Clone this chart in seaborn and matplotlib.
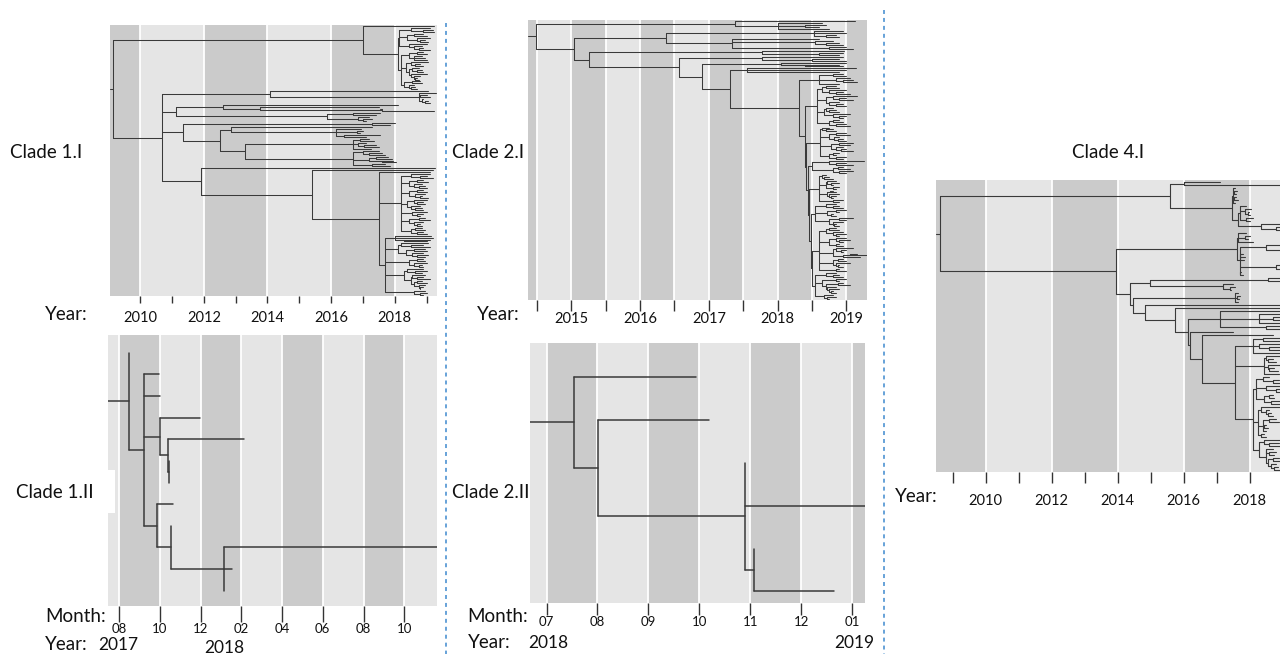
import matplotlib
matplotlib.use("Agg")
import matplotlib.pyplot as plt
from matplotlib.lines import Line2D
from matplotlib.patches import Rectangle
import pandas as pd
import seaborn as sns

W, H = 1280, 654
BASE_YEAR = 2000   # node times below are written as years after 2000

# ---------------- Clade 1.I (node / tip dates, nested as in the tree) ----------------
A1 = "((19.1,(19.2,19.25)18.9)18.5,((18.9,19.0)18.6,(19.1,(18.95,19.05)18.8)18.7)18.4,(19.0,(18.85,(18.9,19.1)18.75)18.6)18.45)18.15"
A2 = ("(((18.9,19.0)18.7,(18.85,18.95,19.0)18.6)18.45,((19.05,(18.8,18.9)18.65)18.5,((18.75,(18.85,18.9)18.7)18.55,"
      "(19.0,(18.8,(18.7,18.75)18.65)18.6)18.5)18.45)18.35,((18.8,18.85)18.55,(18.6,(18.65,18.7)18.5)18.45)18.3)18.2")
A = f"(19.25,({A1},{A2})18.1)17.0"
B1 = "(19.05,(19.3,(19.0,19.1)18.8,(18.9,(19.05,19.1)18.95)18.85)18.75)14.08"
B2b = "((17.55,17.4)16.7,(17.2,(17.3,17.1)17.0)16.85)15.86"
B2 = f"((18.1,(17.5,(17.55,19.25)17.6)13.75)12.6,{B2b})11.12"
B3ba = "(16.95,(17.0,16.9)16.8,(17.55,17.1)16.4)16.17"
B3bb1 = "((17.2,17.35)16.9,(17.1,(17.4,17.5)17.05)16.85,17.25)16.7"
B3bb2 = "((17.5,(17.6,17.7)17.2)17.0,((17.8,17.9)17.4,(17.95,18.05)17.6)17.2,(17.7,17.85)17.3)16.7"
B3 = f"((18.0,17.85)17.3,((17.3,{B3ba})12.85,({B3bb1},{B3bb2})13.3)12.5)11.36"
D1 = ("((19.1,(19.0,19.2)18.8)18.5,((18.9,19.05)18.7,(18.85,(18.95,19.0)18.75)18.6)18.45,((18.9,19.0)18.7,(18.95,(18.85,19.05)18.8)18.65)18.45,"
      "((19.0,(18.9,18.95)18.7)18.6,(18.8,(18.85,18.9)18.65)18.5)18.4,(19.0,(18.9,18.8)18.7)18.55,((18.95,19.1)18.75,(18.9,(18.8,18.85)18.7)18.6)18.45,"
      "((18.85,18.95)18.65,(18.9,19.0)18.7)18.5)18.2")
D2 = ("((19.15,19.2,(19.1,19.0)18.3)18.0,((19.05,(18.9,19.1)18.5)18.2,((18.95,19.0)18.6,(18.9,(19.05,18.95)18.7)18.55)18.35)18.1,"
      "((18.9,18.95)18.7,(19.0,(18.85,18.9)18.75)18.6)18.45,((18.9,(19.0,18.85)18.65)18.4,((18.95,(18.9,19.1)18.7)18.55,"
      "((18.85,19.0)18.7,(18.95,(18.9,18.8)18.8)18.75)18.6)18.5)18.3,(18.95,(19.0,18.9)18.8)18.6)17.7")
D = f"(19.1,{D1},{D2})17.5"
C = f"(19.2,{D})15.4"
B4 = f"(19.26,{C})11.9"
B = f"({B1},{B2},{B3},{B4})10.7"
TREE_1I = f"({A},{B})9.16"
ORIGIN_1I = 9.05

# ---------------- Clade 2.I ----------------
R1 = "(19.12,(18.65,(18.7,18.6)18.4,18.75)18.0)17.38"
R2a = "((18.95,19.0,(18.85,18.9)18.7)18.53,(18.6,(18.8,(18.9,18.95)18.7)18.55,(19.0,19.1)18.75)17.34)16.38"
S1 = "((18.95,19.0)18.8,(19.05,(19.1,19.15)18.95)18.85,18.9)18.6"
S2 = ("(((18.85,18.9)18.7,(19.0,(18.95,19.05)18.85)18.75)18.65,((19.15,(19.0,19.1)18.9)18.8,(18.9,(18.95,19.0)18.85)18.75)18.7,"
      "((18.8,(18.85,18.9)18.75)18.7,(19.05,(19.0,18.95)18.9)18.8)18.68,((18.9,18.95)18.8,(19.0,19.05)18.85)18.75)18.58")
S3 = ("((18.75,(18.8,18.85)18.7)18.65,((19.0,19.05)18.85,(18.9,(18.95,19.0)18.88)18.82)18.75,((19.1,19.05)18.9,"
      "(18.95,(19.0,19.1)18.92)18.85)18.78,((18.9,18.85)18.8,(19.0,18.95)18.85)18.75)18.62")
S4 = "((19.25,(19.0,19.1)18.85)18.75,((18.95,19.05)18.88,(19.1,19.0)18.9)18.8)18.5"
S5 = ("((18.7,(18.75,18.8)18.68)18.65,((18.85,(18.9,18.8)18.78)18.72,(18.9,18.85)18.8)18.7,((18.8,18.85)18.76,"
      "(18.9,(18.85,18.8)18.78)18.75)18.72,(18.95,18.9)18.8)18.6")
S6 = "((18.85,(18.9,18.95)18.8)18.7,((19.0,18.9)18.85,(18.8,18.85)18.78)18.72,((19.1,19.0)18.9,(18.95,(18.85,18.9)18.82)18.8)18.75)18.55"
S7 = ("(((18.85,18.9)18.75,(18.95,(19.0,18.9)18.85)18.8)18.7,((19.0,(19.05,18.95)18.9)18.85,(18.9,18.95)18.85)18.75,"
      "((19.1,(19.0,18.95)18.92)18.85,((19.15,19.3)19.05,19.2)18.95)18.8,((18.95,19.0)18.88,(19.05,(18.9,18.95)18.88)18.85)18.8,"
      "(18.9,19.0)18.85)18.6")
S8 = ("((18.85,(18.9,18.95)18.8)18.7,((19.0,18.9)18.85,((18.95,19.05)18.88,(18.85,(18.9,(18.8,18.85)18.78)18.75)18.72)18.7)18.65,"
      "(18.8,(18.85,18.75)18.72)18.68)18.55")
E = f"({S1},({S2},({S3},({S4},({S5},({S6},({S7},{S8})18.5)18.48)18.46)18.44)18.42)18.4)18.31"
R2b = (f"((18.97,(18.95,18.9)18.6)17.77,((18.95,(18.9,19.0)18.5)17.77,((19.0,(18.9,18.95)18.4)18.05,"
       f"((19.14,19.0,18.9)17.56,{E})17.31)16.9)16.57)15.26")
TREE_2I = f"({R1},({R2a},{R2b})15.04)14.49"
ORIGIN_2I = 14.37

# ---------------- Clade 4.I ----------------
T2 = ("((17.55,(17.62,17.58)17.52,(17.6,17.65)17.53,17.57)17.5,((17.9,(18.05,(17.98,18.02)17.95)17.85,(18.1,18.0)17.9)17.72,"
      "(19.4,(19.35,19.3)18.8)18.35)17.64)17.47")
T = f"((17.12,19.4)16.03,{T2})15.6"
U1 = "((17.9,(18.0,17.95)17.85,18.1)17.65,((19.3,(19.2,19.1)18.95)18.5,(17.8,17.85,17.82)17.7,((19.3,19.25)19.0,19.35)18.8,(17.75,17.8)17.72)17.7)17.63"
U2a = "((19.3,19.35)18.55,(17.5,(17.55,17.45)17.4)17.2)14.98"
W1 = "(19.4,(19.2,(19.1,19.3)18.7,19.25)18.3,(19.0,19.15)18.5)17.12"
Y1 = "((19.3,19.2)18.4,(19.1,(19.3,19.25)18.6)18.3,19.35)18.1"
Y1b = "((19.2,(18.7,18.8)18.55)18.5,(19.0,(18.75,18.85)18.6)18.55,18.9)18.45"
Y2 = ("(((18.6,(18.9,19.1)18.7)18.4,(19.2,(19.0,19.3)18.8)18.5,((18.7,18.75)18.6,(19.1,19.2)18.65)18.45)18.2,"
      "((19.0,(18.6,(18.65,18.7)18.55)18.5)18.35,((18.8,18.9)18.6,(18.5,18.55)18.45,18.5)18.4,(18.45,18.5)18.35)18.25,"
      "((19.2,(18.9,19.0)18.6)18.45,((18.7,(18.8,18.75)18.6)18.5,((18.9,19.1)18.7,(18.8,(18.85,18.95)18.75)18.65)18.55)18.5)18.3)18.1")
Y = f"({Y1},{Y1b},{Y2})17.55"
X = f"(18.72,{Y})16.55"
W2b = f"(17.5,{X})16.2"
Wn = f"({W1},{W2b})16.15"
Vp = f"(19.4,{Wn})15.73"
V = f"(19.4,{Vp})14.83"
N758 = f"((17.65,(17.7,17.68)17.62,17.66)17.55,{V})14.47"
U2 = f"({U2a},{N758})14.39"
U = f"({U1},{U2})13.96"
TREE_4I = f"({T},{U})8.62"
ORIGIN_4I = 8.5

# ---------------- Clade 1.II and 2.II (decimal years) ----------------
TREE_1II = "(17.624,(17.747,17.75,(17.915,(18.095,(17.789,17.789)17.787)17.784)17.751,(17.802,(17.797,(18.884,18.046,18.011)18.011)17.797)17.737)17.686)17.624"
ORIGIN_1II = 17.538
TREE_2II = "(18.744,(18.765,(18.8245,19.021,(18.84,18.971)18.84)18.8245)18.585)18.545"
ORIGIN_2II = 18.473

# ---------------- axes: background bands & ticks ----------------
BANDS_YEARS = [2008, 2010, 2012, 2014, 2016, 2018, 2020]
BANDS_2I = [2014.0, 2014.5, 2015.0, 2015.5, 2016.0, 2016.5, 2017.0, 2017.5, 2018.0, 2018.5, 2019.0, 2019.5]
BANDS_1II = [(2017, 6), (2017, 8), (2017, 10), (2017, 12), (2018, 2), (2018, 4), (2018, 6), (2018, 8), (2018, 10), (2018, 12)]
BANDS_2II = [(2018, 6), (2018, 7), (2018, 8), (2018, 9), (2018, 10), (2018, 11), (2018, 12), (2019, 1), (2019, 2)]

TICKS_1I = [2010, 2011, 2012, 2013, 2014, 2015, 2016, 2017, 2018, 2019]
LABELS_1I = ["2010", "", "2012", "", "2014", "", "2016", "", "2018", ""]
TICKS_2I = [2014.5, 2015, 2015.5, 2016, 2016.5, 2017, 2017.5, 2018, 2018.5, 2019]
LABELS_2I = ["", "2015", "", "2016", "", "2017", "", "2018", "", "2019"]
TICKS_4I = [2009, 2010, 2011, 2012, 2013, 2014, 2015, 2016, 2017, 2018, 2019]
LABELS_4I = ["", "2010", "", "2012", "", "2014", "", "2016", "", "2018", ""]
TICKS_1II = [(2017, 8), (2017, 10), (2017, 12), (2018, 2), (2018, 4), (2018, 6), (2018, 8), (2018, 10)]
LABELS_1II = ["08", "10", "12", "02", "04", "06", "08", "10"]
TICKS_2II = [(2018, 7), (2018, 8), (2018, 9), (2018, 10), (2018, 11), (2018, 12), (2019, 1)]
LABELS_2II = ["07", "08", "09", "10", "11", "12", "01"]

DARK, LIGHT = "#cbcbcb", "#e5e5e5"
LINE = "#3a3a3a"


def month(ym):
    return ym[0] + (ym[1] - 1) / 12.0


def parse_tree(s):
    nodes = []
    pos = 0

    def number():
        nonlocal pos
        j = pos
        while j < len(s) and (s[j].isdigit() or s[j] == "."):
            j += 1
        v = float(s[pos:j])
        pos = j
        return v

    def node():
        nonlocal pos
        kids = []
        if s[pos] == "(":
            pos += 1
            kids.append(node())
            while s[pos] == ",":
                pos += 1
                kids.append(node())
            assert s[pos] == ")"
            pos += 1
        t = number()
        nodes.append({"t": BASE_YEAR + t, "kids": kids})
        return len(nodes) - 1

    root = node()
    assert pos == len(s)
    return nodes, root


def tree_frame(s, origin):
    nodes, root = parse_tree(s)
    ypos = {}
    count = [0]

    def visit(i):
        kids = nodes[i]["kids"]
        if not kids:
            ypos[i] = count[0]
            count[0] += 1
        else:
            for k in kids:
                visit(k)
            ypos[i] = (ypos[kids[0]] + ypos[kids[-1]]) / 2.0

    visit(root)
    rows = []
    sid = [0]

    def add(x0, y0, x1, y1):
        if abs(x1 - x0) < 1e-9 and abs(y1 - y0) < 1e-9:
            return
        rows.append((sid[0], x0, y0))
        rows.append((sid[0], x1, y1))
        sid[0] += 1

    add(BASE_YEAR + origin, ypos[root], nodes[root]["t"], ypos[root])
    for n in nodes:
        kids = n["kids"]
        if kids:
            add(n["t"], ypos[kids[0]], n["t"], ypos[kids[-1]])
            for k in kids:
                add(n["t"], ypos[k], nodes[k]["t"], ypos[k])
    return pd.DataFrame(rows, columns=["seg", "x", "y"]), count[0]


def px_axes(fig, x0, y0, x1, y1):
    return fig.add_axes([x0 / W, 1 - y1 / H, (x1 - x0) / W, (y1 - y0) / H])


def draw_panel(ax, tree, origin, xlim, pads, bands, first_dark, ticks, labels,
               tick_len, tick_pad, labelsize, lw):
    for i in range(len(bands) - 1):
        dark = (i % 2 == 0) == first_dark
        ax.axvspan(bands[i], bands[i + 1], color=DARK if dark else LIGHT, lw=0, zorder=0)
    for e in bands[1:-1]:
        ax.axvline(e, color="white", lw=1.3, zorder=0.5)
    df, n = tree_frame(tree, origin)
    sns.lineplot(data=df, x="x", y="y", units="seg", estimator=None, sort=False,
                 color=LINE, linewidth=lw, ax=ax, legend=False, zorder=2)
    ax.set_xlim(*xlim)
    ax.set_ylim(n - 1 + pads[1], -pads[0])
    ax.set_xlabel("")
    ax.set_ylabel("")
    ax.set_yticks([])
    ax.set_xticks(ticks)
    ax.set_xticklabels(labels)
    ax.tick_params(axis="x", bottom=True, length=tick_len, width=1.0, color="#333333",
                   pad=tick_pad, labelsize=labelsize, labelcolor="#111111", direction="out")
    for sp in ax.spines.values():
        sp.set_visible(False)


sns.set_theme(style="white")
plt.rcParams["font.family"] = ["Lato", "DejaVu Sans"]

fig = plt.figure(figsize=(W / 100, H / 100), dpi=100)
fig.patch.set_facecolor("white")

ax1 = px_axes(fig, 110, 25, 437, 296)
draw_panel(ax1, TREE_1I, ORIGIN_1I, (2009.05, 2019.33), (0.6, 0.6), BANDS_YEARS, True,
           TICKS_1I, LABELS_1I, 5, 5.8, 10.5, 0.75)

ax2 = px_axes(fig, 528, 20, 867, 300)
draw_panel(ax2, TREE_2I, ORIGIN_2I, (2014.37, 2019.3), (0.6, 0.6), BANDS_2I, True,
           TICKS_2I, LABELS_2I, 8, 0.8, 10.5, 0.75)

ax3 = px_axes(fig, 936, 180, 1299, 472)
draw_panel(ax3, TREE_4I, ORIGIN_4I, (2008.5, 2019.5), (0.7, 0.7), BANDS_YEARS, True,
           TICKS_4I, LABELS_4I, 8, 8, 10.5, 0.8)

ax4 = px_axes(fig, 108, 335, 437, 606)
draw_panel(ax4, TREE_1II, ORIGIN_1II, (2017.538, 2018.884), (0.82, 0.71),
           [month(b) for b in BANDS_1II], False, [month(t) for t in TICKS_1II], LABELS_1II,
           11.5, 0.5, 9.5, 1.1)

ax5 = px_axes(fig, 530, 343, 865, 603)
draw_panel(ax5, TREE_2II, ORIGIN_2II, (2018.473, 2019.021), (0.79, 0.27),
           [month(b) for b in BANDS_2II], False, [month(t) for t in TICKS_2II], LABELS_2II,
           8.6, 0.7, 9.5, 1.1)

# white notch behind the "Clade 1.II" label
fig.add_artist(Rectangle((108 / W, 1 - 513 / H), 7 / W, 43 / H, transform=fig.transFigure,
                         facecolor="white", edgecolor="none", zorder=5))


def ftext(x, y, s, size=13.5, ha="left"):
    fig.text(x / W, 1 - y / H, s, ha=ha, va="center", fontsize=size, color="#111111")


ftext(10, 152, "Clade 1.I")
ftext(452, 152, "Clade 2.I")
ftext(1108, 152, "Clade 4.I", ha="center")
ftext(16, 492, "Clade 1.II")
ftext(452, 492, "Clade 2.II")

ftext(45, 315, "Year:")
ftext(477, 315, "Year:")
ftext(895, 497, "Year:")

ftext(45, 616, "Month:")
ftext(45, 645, "Year:")
ftext(98, 645, "2017", size=12.5)
ftext(204, 648, "2018", size=12.5)

ftext(467, 616, "Month:")
ftext(468, 643, "Year:")
ftext(528, 643, "2018", size=12.5)
ftext(834, 643, "2019", size=12.5)

# dashed separators
for xs, ytop in [(446, 23), (884, 10)]:
    fig.add_artist(Line2D([xs / W, xs / W], [1 - ytop / H, 0], transform=fig.transFigure,
                          color="#5b9bd5", lw=1.3, linestyle=(0, (2.2, 2.2)), zorder=6))

fig.savefig("out.png", dpi=100, facecolor="white")
